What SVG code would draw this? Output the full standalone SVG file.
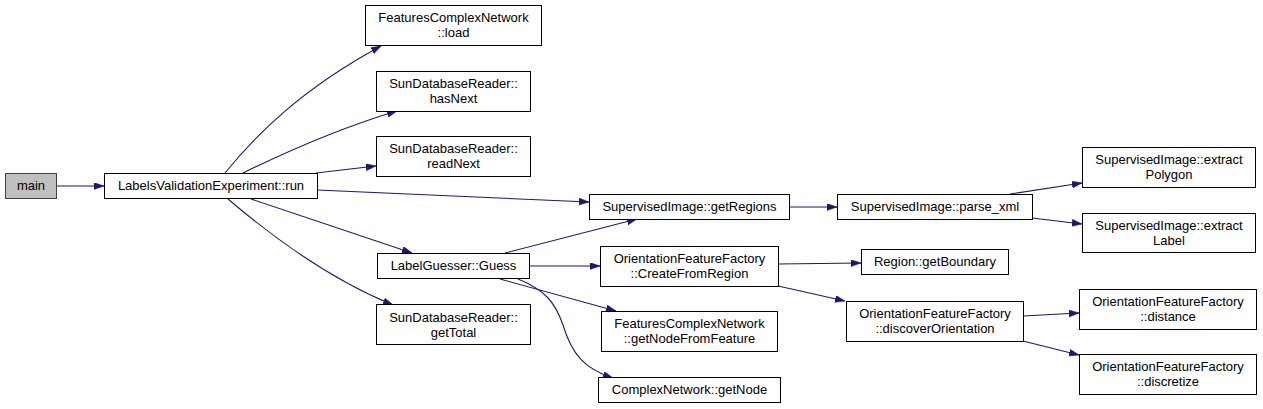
<svg xmlns="http://www.w3.org/2000/svg" width="1263" height="409" viewBox="0 0 1263 409">
<defs>
<style>
.n rect{fill:#fff;stroke:#000;stroke-width:1}
.n text{font-family:"Liberation Sans",Arial,Helvetica,sans-serif;font-size:13px;text-anchor:middle;fill:#000}
.e path{fill:none;stroke:#191970;stroke-width:1.1}
</style>
<marker id="ah" markerUnits="userSpaceOnUse" markerWidth="11" markerHeight="8" refX="10" refY="3.5" orient="auto">
<path d="M0,0 L10,3.5 L0,7 z" fill="#191970" stroke="#191970" stroke-width="0.5"/>
</marker>
</defs>
<rect width="1263" height="409" fill="#fff"/>
<g id="edges" class="e">
<path marker-end="url(#ah)" d="M56,186 L104,186"/>
<path marker-end="url(#ah)" d="M225,173 C255,136 300,90 381,46"/>
<path marker-end="url(#ah)" d="M243,173 C290,150 340,128 397,111"/>
<path marker-end="url(#ah)" d="M316,173 L376,166"/>
<path marker-end="url(#ah)" d="M317,190 L589,202"/>
<path marker-end="url(#ah)" d="M251,199 L412,253"/>
<path marker-end="url(#ah)" d="M228,199 C262,228 322,276 393,305"/>
<path marker-end="url(#ah)" d="M505,253 L637,219"/>
<path marker-end="url(#ah)" d="M529,266 L600,266"/>
<path marker-end="url(#ah)" d="M500,279 L616,311"/>
<path marker-end="url(#ah)" d="M518,279 C545,290 555,302 563,325 C572,355 585,369 613,378"/>
<path marker-end="url(#ah)" d="M789,207 L837,207"/>
<path marker-end="url(#ah)" d="M1010,194 L1082,183"/>
<path marker-end="url(#ah)" d="M1032,218 L1082,224"/>
<path marker-end="url(#ah)" d="M778,264 L861,263"/>
<path marker-end="url(#ah)" d="M778,286 L845,301"/>
<path marker-end="url(#ah)" d="M1023,316 L1079,313"/>
<path marker-end="url(#ah)" d="M1023,341 L1079,355"/>
</g>
<g id="main" class="n"><rect x="5.5" y="173.5" width="51" height="25" style="fill:#bfbfbf;stroke:#404040"/><text x="31" y="190">main</text></g>
<g id="run" class="n"><rect x="104.5" y="173.5" width="213" height="25"/><text x="211" y="190">LabelsValidationExperiment::run</text></g>
<g id="load" class="n"><rect x="365.5" y="5.5" width="176" height="40"/><text x="453.5" y="22">FeaturesComplexNetwork</text><text x="453.5" y="37">::load</text></g>
<g id="hasNext" class="n"><rect x="376.5" y="71.5" width="154" height="40"/><text x="453.5" y="88">SunDatabaseReader::</text><text x="453.5" y="103">hasNext</text></g>
<g id="readNext" class="n"><rect x="376.5" y="136.5" width="154" height="40"/><text x="453.5" y="153">SunDatabaseReader::</text><text x="453.5" y="168">readNext</text></g>
<g id="getRegions" class="n"><rect x="589.5" y="194.5" width="200" height="25"/><text x="689.5" y="211">SupervisedImage::getRegions</text></g>
<g id="guess" class="n"><rect x="377.5" y="253.5" width="152" height="25"/><text x="453.5" y="270">LabelGuesser::Guess</text></g>
<g id="getTotal" class="n"><rect x="376.5" y="304.5" width="154" height="40"/><text x="453.5" y="322">SunDatabaseReader::</text><text x="453.5" y="337">getTotal</text></g>
<g id="createFromRegion" class="n"><rect x="600.5" y="246.5" width="178" height="40"/><text x="689.5" y="263">OrientationFeatureFactory</text><text x="689.5" y="278">::CreateFromRegion</text></g>
<g id="getNodeFromFeature" class="n"><rect x="601.5" y="311.5" width="176" height="40"/><text x="689.5" y="328">FeaturesComplexNetwork</text><text x="689.5" y="343">::getNodeFromFeature</text></g>
<g id="getNode" class="n"><rect x="598.5" y="377.5" width="182" height="25"/><text x="689.5" y="394">ComplexNetwork::getNode</text></g>
<g id="parseXml" class="n"><rect x="837.5" y="194.5" width="195" height="25"/><text x="935" y="211">SupervisedImage::parse_xml</text></g>
<g id="extractPolygon" class="n"><rect x="1082.5" y="147.5" width="173" height="40"/><text x="1169" y="164">SupervisedImage::extract</text><text x="1169" y="179">Polygon</text></g>
<g id="extractLabel" class="n"><rect x="1082.5" y="213.5" width="173" height="39"/><text x="1169" y="230">SupervisedImage::extract</text><text x="1169" y="245">Label</text></g>
<g id="getBoundary" class="n"><rect x="861.5" y="249.5" width="147" height="25"/><text x="935" y="266">Region::getBoundary</text></g>
<g id="discoverOrientation" class="n"><rect x="846.5" y="301.5" width="177" height="40"/><text x="935" y="318">OrientationFeatureFactory</text><text x="935" y="333">::discoverOrientation</text></g>
<g id="distance" class="n"><rect x="1079.5" y="289.5" width="177" height="40"/><text x="1168" y="306">OrientationFeatureFactory</text><text x="1168" y="321">::distance</text></g>
<g id="discretize" class="n"><rect x="1079.5" y="354.5" width="177" height="40"/><text x="1168" y="371">OrientationFeatureFactory</text><text x="1168" y="386">::discretize</text></g>
</svg>
